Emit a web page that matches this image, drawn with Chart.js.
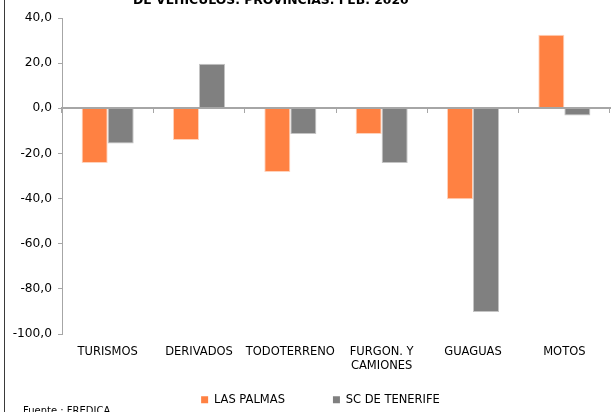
<!DOCTYPE html>
<html lang="es">
<head>
    <meta charset="UTF-8">
    <title>Matriculación de vehículos. Provincias. Feb. 2020</title>
    <script src="https://cdn.jsdelivr.net/npm/chart.js"></script>
    <style>
        body {
            margin: 0;
            background: #ffffff;
            font-family: "DejaVu Sans", Verdana, sans-serif;
        }
        .wrap {
            position: relative;
            width: 611px;
            height: 412px;
            overflow: hidden;
        }
        .frame {
            position: absolute;
            left: 4px;
            top: 0;
            width: 1px;
            height: 412px;
            background: #3a3a3a;
        }
        .title {
            position: absolute;
            top: -6px;
            left: 133px;
            font-size: 12.4px;
            line-height: 12px;
            font-weight: bold;
            white-space: nowrap;
            color: #000;
        }
        .source {
            position: absolute;
            top: 405px;
            left: 23px;
            font-size: 10px;
            line-height: 12px;
            white-space: nowrap;
            color: #000;
        }
        canvas {
            position: absolute;
            left: 0;
            top: 0;
        }
    </style>
</head>
<body>
    <div class="wrap">
        <canvas id="chart" width="611" height="412"></canvas>
        <div class="frame"></div>
        <div class="title">DE VEHÍCULOS. PROVINCIAS. FEB. 2020</div>
        <div class="source">Fuente : FREDICA</div>
    </div>

    <script>
        const categories = ["TURISMOS", "DERIVADOS", "TODOTERRENO", ["FURGON. Y", "CAMIONES"], "GUAGUAS", "MOTOS"];
        const lasPalmas = [-24.2, -14.0, -28.2, -11.4, -40.3, 32.6];
        const scTenerife = [-15.6, 19.7, -11.4, -24.2, -90.2, -3.2];
        const yTicks = [40, 20, 0, -20, -40, -60, -80, -100];

        const axisGray = "#a6a6a6";
        const labelFont = { family: "DejaVu Sans", size: 11.5 };

        // move the legend to where the original one sits
        const legendPlace = {
            id: "legendPlace",
            afterLayout(chart) {
                const lg = chart.legend;
                lg.left += 15.5;
                lg.right += 15.5;
                lg.top = 346;
            }
        };

        new Chart(document.getElementById("chart"), {
            type: "bar",
            data: {
                labels: categories,
                datasets: [{
                    label: "LAS PALMAS",
                    data: lasPalmas,
                    backgroundColor: "#ff8142",
                    borderColor: "#ffd2bb",
                    borderWidth: 1
                }, {
                    label: "SC DE TENERIFE",
                    data: scTenerife,
                    backgroundColor: "#808080",
                    borderColor: "#c4c4c4",
                    borderWidth: 1
                }]
            },
            options: {
                responsive: false,
                animation: false,
                categoryPercentage: 0.57,
                barPercentage: 1,
                layout: {
                    padding: { top: 18, left: 0, right: 1, bottom: 0 }
                },
                scales: {
                    x: {
                        position: "bottom",
                        grid: { display: false },
                        border: { display: false },
                        ticks: {
                            autoSkip: false,
                            maxRotation: 0,
                            padding: 3,
                            color: "#000",
                            font: labelFont
                        },
                        afterFit(scale) { scale.height = 68; }
                    },
                    zero: {
                        type: "category",
                        axis: "x",
                        position: { y: 0 },
                        offset: true,
                        grid: {
                            offset: true,
                            drawOnChartArea: false,
                            tickLength: 4,
                            color: axisGray,
                            lineWidth: 1
                        },
                        border: { color: axisGray, width: 2, z: 1 },
                        ticks: { display: false }
                    },
                    y: {
                        min: -100,
                        max: 40,
                        afterBuildTicks(scale) {
                            scale.ticks = yTicks.map(v => ({ value: v }));
                        },
                        grid: {
                            drawOnChartArea: false,
                            tickLength: 4,
                            color: axisGray
                        },
                        border: { color: axisGray, width: 1 },
                        ticks: {
                            padding: 6,
                            color: "#000",
                            font: { family: "DejaVu Sans", size: 12.2 },
                            callback: v => v.toFixed(1).replace(".", ",")
                        },
                        afterFit(scale) { scale.width = 62; }
                    }
                },
                plugins: {
                    legend: {
                        position: "bottom",
                        maxHeight: 10,
                        labels: {
                            boxWidth: 7,
                            boxHeight: 7,
                            padding: 48,
                            color: "#000",
                            font: labelFont,
                            generateLabels(chart) {
                                const items = Chart.defaults.plugins.legend.labels.generateLabels(chart);
                                items.forEach(it => { it.strokeStyle = it.fillStyle; it.lineWidth = 0; });
                                return items;
                            }
                        }
                    },
                    tooltip: { enabled: false }
                }
            },
            plugins: [legendPlace]
        });
    </script>
</body>
</html>
